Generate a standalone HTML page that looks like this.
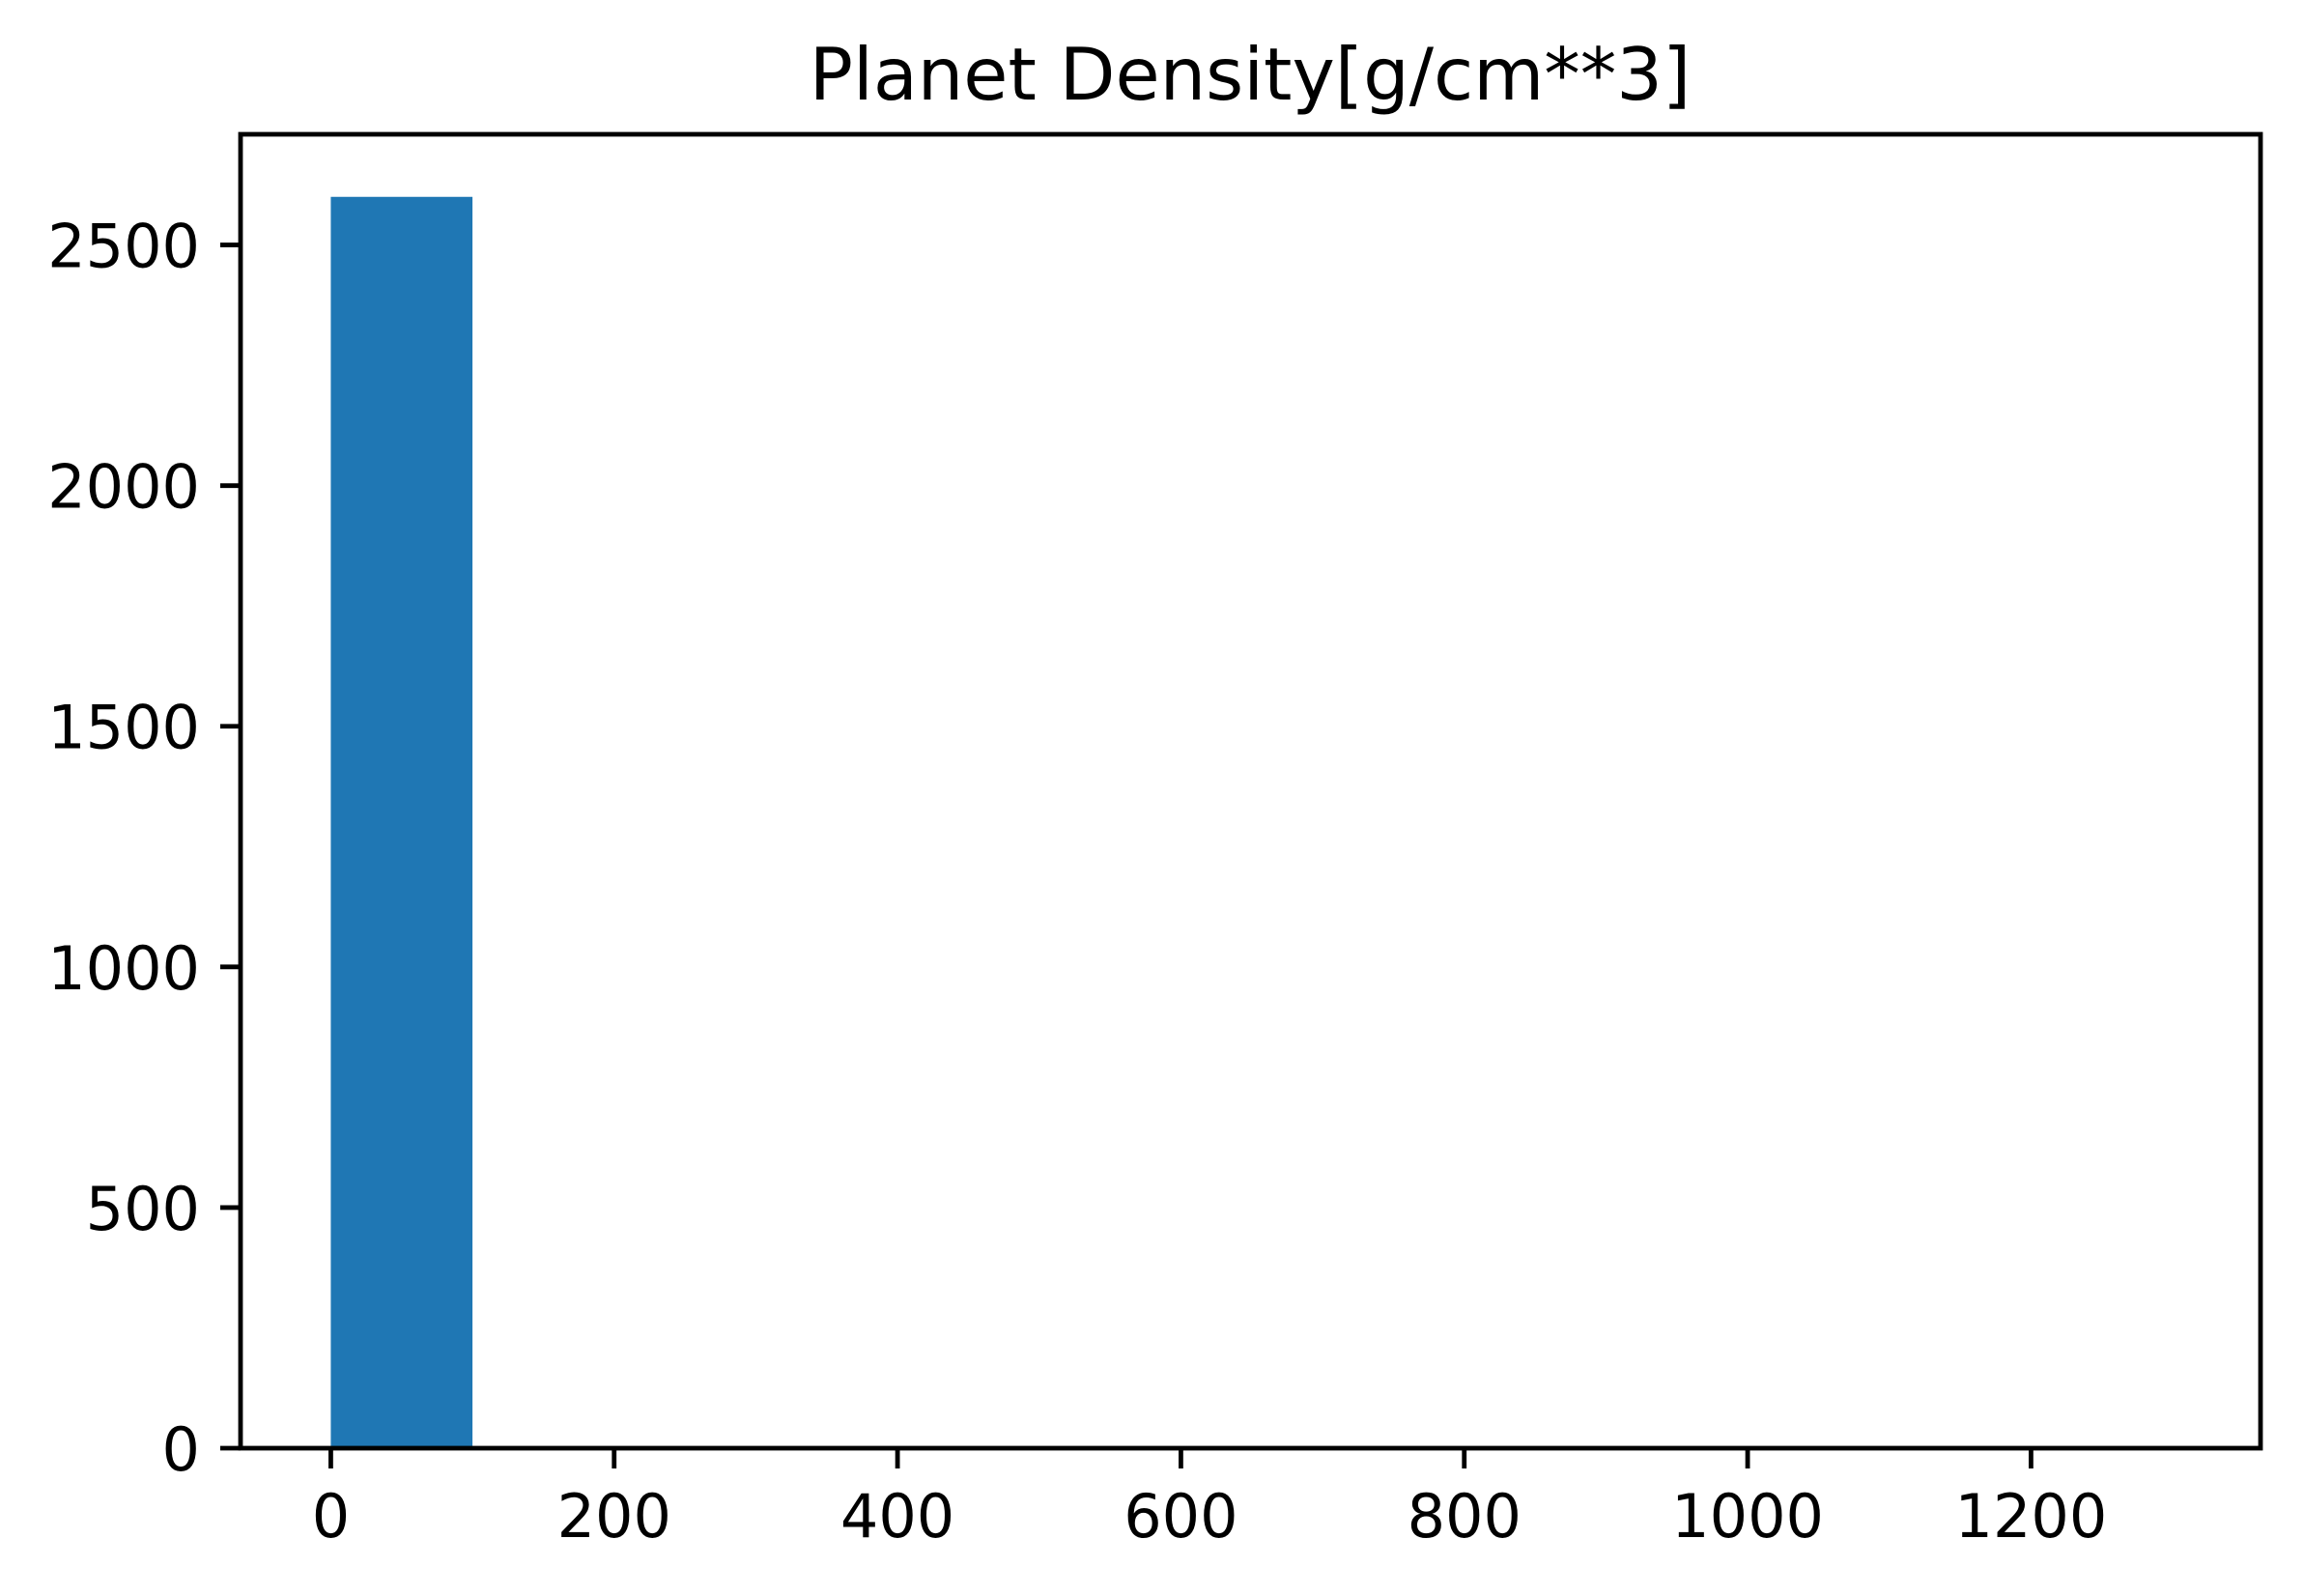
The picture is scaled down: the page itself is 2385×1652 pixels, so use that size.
<!DOCTYPE html>
<html><head><meta charset="utf-8"><style>
html,body{margin:0;padding:0;background:#fff;}
svg text{font-family:"DejaVu Sans","Liberation Sans",sans-serif;fill:#000;}
</style></head><body>
<svg id="chart" xmlns="http://www.w3.org/2000/svg" width="2385" height="1647" viewBox="0 0 2385 1647">
<rect x="0" y="0" width="2385" height="1647" fill="#fff"/>
<text x="1294" y="103" font-size="75" text-anchor="middle">Planet Density[g/cm**3]</text>
<g id="bars"></g>
<g id="xticks"></g>
<g id="yticks"></g>
<rect x="249" y="139" width="2091" height="1360" fill="none" stroke="#000" stroke-width="4.8"/>
</svg>
<script>
const binEdges = [0,100,200,300,400,500,600,700,800,900,1000,1100,1200,1300];
const counts = [2600,0,0,0,0,0,0,0,0,0,0,0,0];
const xTickValues = [0,200,400,600,800,1000,1200];
const yTickValues = [0,500,1000,1500,2000,2500];

const L=249,R=2340,T=139,B=1499;
const xMin=-63.7,xMax=1362,yMin=0,yMax=2730;
const sx=v=>L+(v-xMin)/(xMax-xMin)*(R-L);
const sy=v=>B-(v-yMin)/(yMax-yMin)*(B-T);
const NS="http://www.w3.org/2000/svg";
const bars=document.getElementById('bars');
counts.forEach((c,i)=>{
  if(c<=0) return;
  const r=document.createElementNS(NS,'rect');
  r.setAttribute('x',sx(binEdges[i]));
  r.setAttribute('width',sx(binEdges[i+1])-sx(binEdges[i]));
  r.setAttribute('y',sy(c));
  r.setAttribute('height',sy(0)-sy(c));
  r.setAttribute('fill','#1f77b4');
  
  
  bars.appendChild(r);
});
const xg=document.getElementById('xticks');
xTickValues.forEach(v=>{
  const l=document.createElementNS(NS,'line');
  l.setAttribute('x1',sx(v));l.setAttribute('x2',sx(v));
  l.setAttribute('y1',B);l.setAttribute('y2',B+21);
  l.setAttribute('stroke','#000');l.setAttribute('stroke-width','4.8');
  
  
  xg.appendChild(l);
  const t=document.createElementNS(NS,'text');
  t.setAttribute('x',sx(v));t.setAttribute('y',B+92);
  t.setAttribute('font-size','62');t.setAttribute('text-anchor','middle');
  t.textContent=v;
  
  
  xg.appendChild(t);
});
const yg=document.getElementById('yticks');
yTickValues.forEach(v=>{
  const l=document.createElementNS(NS,'line');
  l.setAttribute('x1',L-21);l.setAttribute('x2',L);
  l.setAttribute('y1',sy(v));l.setAttribute('y2',sy(v));
  l.setAttribute('stroke','#000');l.setAttribute('stroke-width','4.8');
  
  
  yg.appendChild(l);
  const t=document.createElementNS(NS,'text');
  t.setAttribute('x',L-42);t.setAttribute('y',sy(v)+23);
  t.setAttribute('font-size','62');t.setAttribute('text-anchor','end');
  t.textContent=v;
  
  
  yg.appendChild(t);
});
</script>
</body></html>
